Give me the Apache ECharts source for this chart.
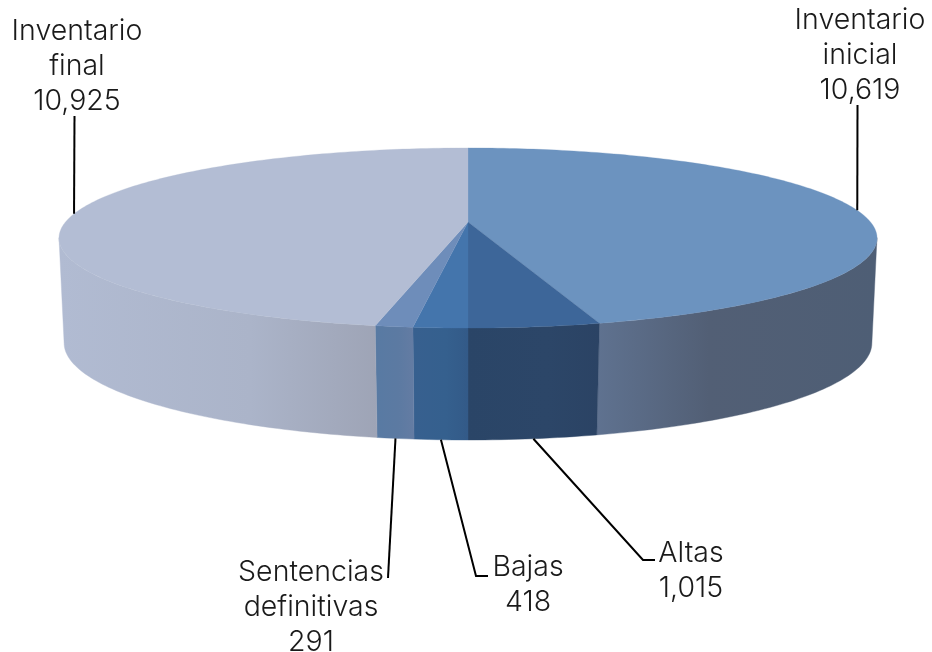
<!DOCTYPE html>
<html><head><meta charset="utf-8">
<style>html,body{margin:0;padding:0;background:#fff}#c{width:932px;height:652px}</style>
<script src="https://cdn.jsdelivr.net/npm/echarts@6/dist/echarts.min.js"></script>
</head><body><div id="c"></div>
<script>
// ---- data ----
const categories = ['Inventario\ninicial', 'Altas', 'Bajas', 'Sentencias\ndefinitivas', 'Inventario\nfinal'];
const values = [10619, 1015, 418, 291, 10925];
// ---- colours ----
const topColors = ['#6C93BF', '#3D6699', '#4475AC', '#6E8DBA', '#B3BDD4'];
const sideStops = [
  ['#5F7290', '#525F75', '#4E5E75'],
  ['#2A4567', '#2C4668', '#2B4364'],
  ['#37608F', '#35608E', '#335A88'],
  ['#587AA3', '#5C7AA2', '#647CA3'],
  ['#B1BBD2', '#ABB4C9', '#9EA4B6']
];
// ---- label layout: text centre, leader elbow, leader end ----
const labelCentre = [[860, 55], [691, 571], [528, 585], [311, 607], [77, 66]];
const leaderElbow = [null, [643, 560], [476, 576], null, null];
const leaderEnd = [[857.5, 105], [655, 560], [488, 576], [388, 578], [74.5, 116]];
// ---- projection of the disc ----
const topDisc = {cx: 468, y0: 222, a: 402.5, b: 87.2, k: 0.1778};
const botDisc = {cx: 468, y0: 326.5, a: 398, b: 94.2, k: 0.17};
const visibleFrom = 100, visibleTo = 260;

const total = values.reduce((s, v) => s + v, 0);
const startDeg = i => values.slice(0, i).reduce((s, v) => s + v, 0) / total * 360;
const project = (d, deg) => {
  const t = deg * Math.PI / 180, u = Math.sin(t), v = -Math.cos(t), w = 1 - d.k * v;
  return [d.cx + d.a * u / w, d.y0 + d.b * v / w];
};
const arc = (d, from, to) => {
  const pts = [], n = Math.max(2, Math.ceil(Math.abs(to - from)));
  for (let j = 0; j <= n; j++) pts.push(project(d, from + (to - from) * j / n));
  return pts;
};
const seriesData = values.map((v, i) => ({name: categories[i], value: v}));

const renderSide = (params) => {
  const i = params.dataIndex;
  const from = Math.max(startDeg(i), visibleFrom), to = Math.min(startDeg(i + 1), visibleTo);
  const points = arc(topDisc, from, to).concat(arc(botDisc, from, to).reverse());
  const xs = points.map(p => p[0]);
  const s = sideStops[i];
  const fill = new echarts.graphic.LinearGradient(Math.min(...xs), 0, Math.max(...xs), 0,
    [{offset: 0, color: s[0]}, {offset: i === 0 ? 0.4 : 0.6, color: s[1]}, {offset: 1, color: s[2]}], true);
  return {type: 'polygon', shape: {points}, style: {fill, stroke: fill, lineWidth: 0.4}};
};
const renderTop = (params) => {
  const i = params.dataIndex;
  const points = [[topDisc.cx, topDisc.y0]].concat(arc(topDisc, startDeg(i), startDeg(i + 1)));
  return {type: 'polygon', shape: {points}, style: {fill: topColors[i], stroke: topColors[i], lineWidth: 0.3}};
};
const renderLabel = (params, api) => {
  const i = params.dataIndex;
  const mid = (startDeg(i) + startDeg(i + 1)) / 2;
  const inBack = mid < visibleFrom || mid > visibleTo;
  const start = project(inBack ? topDisc : botDisc, mid);
  const pts = [start];
  if (leaderElbow[i]) pts.push(leaderElbow[i]);
  pts.push(leaderEnd[i]);
  return {type: 'group', children: [
    {type: 'polyline', shape: {points: pts}, style: {stroke: '#000', lineWidth: 2, fill: null}},
    {type: 'text', style: {
      text: categories[i] + '\n' + api.value(0).toLocaleString('en-US'),
      x: labelCentre[i][0], y: labelCentre[i][1], align: 'center', verticalAlign: 'middle',
      font: '300 28.5px Inter', lineHeight: 35, fill: '#1a1a1a'}}
  ]};
};
const chart = echarts.init(document.getElementById('c'), null, {renderer: 'canvas'});
chart.setOption({
  animation: false,
  backgroundColor: '#fff',
  series: [
    {type: 'custom', coordinateSystem: 'none', renderItem: renderSide, data: seriesData, z: 1, silent: true},
    {type: 'custom', coordinateSystem: 'none', renderItem: renderTop, data: seriesData, z: 2, silent: true},
    {type: 'custom', coordinateSystem: 'none', renderItem: renderLabel, data: seriesData, z: 3, silent: true}
  ]
});
</script></body></html>
